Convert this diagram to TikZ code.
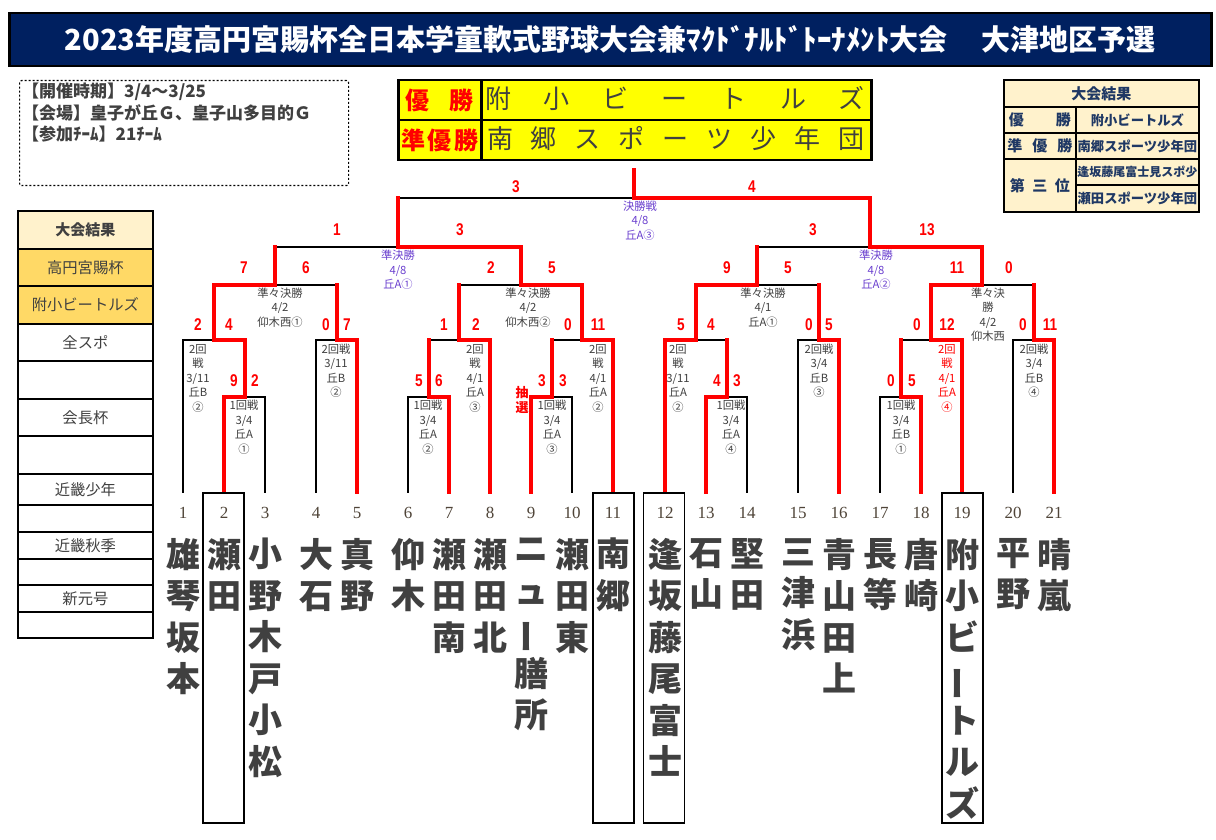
\documentclass[tikz,border=0pt]{standalone}
\usepackage{fontspec}
\usepackage{graphicx}
\setmainfont{Noto Sans CJK JP}
\newfontfamily\jp{Noto Sans CJK JP}
\newfontfamily\scf[FakeStretch=0.8]{Liberation Sans}
\newfontfamily\numf{Liberation Serif}
\usetikzlibrary{calc}
\definecolor{navy}{HTML}{002060}
\definecolor{txtg}{HTML}{404040}
\definecolor{lblpur}{HTML}{6A3FCF}
\definecolor{cream}{HTML}{FFF2CC}
\definecolor{gold}{HTML}{FFD966}
\definecolor{tblnavy}{HTML}{1F3864}
\definecolor{numc}{HTML}{4F4438}
\definecolor{yel}{HTML}{FFFF00}
\definecolor{rd}{HTML}{FF0000}
\newcommand\vbar{\rotatebox[origin=c]{90}{ー}}
\begin{document}
\begin{tikzpicture}[x=1pt,y=-1pt,
  blk/.style={black,line width=1.6pt,line cap=rect},
  redl/.style={rd,line width=4pt,line cap=rect},
  lbl/.style={font=\jp\fontsize{11.3}{14.5}\selectfont,text=txtg,align=center,inner sep=0pt},
  plbl/.style={lbl,text=lblpur},
  rlbl/.style={lbl,text=rd},
  sc/.style={font=\scf\bfseries\fontsize{17}{17}\selectfont,text=rd,inner sep=0pt},
  num/.style={font=\numf\fontsize{17}{17}\selectfont,text=numc,inner sep=0pt},
  team/.style={font=\jp\bfseries\fontsize{34}{41.5}\selectfont,text=txtg,align=center,inner sep=0pt,anchor=north},
  namebox/.style={draw=black,line width=1.6pt,minimum width=41pt,minimum height=330pt,anchor=north,inner sep=0pt},
  cell/.style={draw=black,line width=2pt,anchor=north west,inner sep=0pt},
  scell/.style={draw=black,line width=1.8pt,anchor=north west,inner sep=0pt,minimum width=135pt,font=\jp\fontsize{15.3}{15.3}\selectfont,text=txtg},
  tcell/.style={draw=black,line width=1.8pt,fill=cream,anchor=north west,inner sep=0pt,font=\jp\bfseries,text=tblnavy},
]
\useasboundingbox (0,0) rectangle (1216,840);
\fill[white] (0,0) rectangle (1216,840);

% ---------- title ----------
\node[draw=black,line width=2.5pt,fill=navy,anchor=north west,minimum width=1202pt,minimum height=53pt,inner sep=0pt,
      font=\jp\bfseries\fontsize{29}{29}\selectfont,text=white] (title) at (8,12)
  {2023年度高円宮賜杯全日本学童軟式野球大会兼ﾏｸﾄﾞﾅﾙﾄﾞﾄｰﾅﾒﾝﾄ大会\hspace{34pt}大津地区予選};

% ---------- info box ----------
\node[draw=black,line width=1.2pt,dash pattern=on 2pt off 2pt,rounded corners=2pt,anchor=north west,
      minimum width=329pt,minimum height=105pt,inner sep=0pt] (info) at (19,80) {};
\begin{scope}[every node/.style={anchor=west,inner sep=0pt,font=\jp\bfseries\fontsize{17}{17}\selectfont,text=txtg}]
\node (info1) at (22,92) {【開催時期】3/4～3/25};
\node (info2) at (22,113) {【会場】皇子が丘Ｇ、皇子山多目的Ｇ};
\node (info3) at (22,134) {【参加ﾁｰﾑ】21ﾁｰﾑ};
\end{scope}

% ---------- winner box ----------
\node[cell,line width=2.5pt,fill=yel,minimum width=83pt,minimum height=40pt] (w1a) at (397,79) {};
\node[cell,line width=2.5pt,fill=yel,minimum width=390pt,minimum height=40pt] (w1b) at (480,79) {};
\node[cell,line width=2.5pt,fill=yel,minimum width=83pt,minimum height=40pt] (w2a) at (397,119) {};
\node[cell,line width=2.5pt,fill=yel,minimum width=390pt,minimum height=40pt] (w2b) at (480,119) {};
\node[inner sep=0pt,text=rd,font=\jp\bfseries\fontsize{24}{24}\selectfont] (w1at) at (w1a.center) {\makebox[68pt][s]{優\hfill 勝}};
\node[inner sep=0pt,text=rd,font=\jp\bfseries\fontsize{24}{24}\selectfont] (w2at) at (w2a.center) {\makebox[77pt][s]{準\hfill 優\hfill 勝}};
\node[inner sep=0pt,text=txtg,font=\jp\fontsize{26}{26}\selectfont] (w1bt) at (675,99) {\makebox[380pt][s]{附\hfill 小\hfill ビ\hfill ー\hfill ト\hfill ル\hfill ズ}};
\node[inner sep=0pt,text=txtg,font=\jp\fontsize{26}{26}\selectfont] (w2bt) at (675.5,139) {\makebox[377pt][s]{南\hfill 郷\hfill ス\hfill ポ\hfill ー\hfill ツ\hfill 少\hfill 年\hfill 団}};

% ---------- result table (top right) ----------
\node[tcell,minimum width=195pt,minimum height=27pt,font=\jp\bfseries\fontsize{15}{15}\selectfont] (rh) at (1003,79) {大会結果};
\node[tcell,minimum width=72pt,minimum height=26pt,font=\jp\bfseries\fontsize{15}{15}\selectfont] (r1a) at (1003,106) {\makebox[62pt][s]{優\hfill 勝}};
\node[tcell,minimum width=123pt,minimum height=26pt,font=\jp\bfseries\fontsize{13.3}{13.3}\selectfont] (r1b) at (1075,106) {附小ビートルズ};
\node[tcell,minimum width=72pt,minimum height=26pt,font=\jp\bfseries\fontsize{15}{15}\selectfont] (r2a) at (1003,132) {\makebox[65pt][s]{準\hfill 優\hfill 勝}};
\node[tcell,minimum width=123pt,minimum height=26pt,font=\jp\bfseries\fontsize{13.3}{13.3}\selectfont] (r2b) at (1075,132) {南郷スポーツ少年団};
\node[tcell,minimum width=72pt,minimum height=53pt,font=\jp\bfseries\fontsize{15}{15}\selectfont] (r3a) at (1003,158) {\makebox[60pt][s]{第\hfill 三\hfill 位}};
\node[tcell,minimum width=123pt,minimum height=26pt,font=\jp\bfseries\fontsize{12}{12}\selectfont] (r3b) at (1075,158) {逢坂藤尾富士見スポ少};
\node[tcell,minimum width=123pt,minimum height=27pt,font=\jp\bfseries\fontsize{13.3}{13.3}\selectfont] (r4b) at (1075,184) {瀬田スポーツ少年団};

% ---------- left sidebar ----------
\node[scell,fill=cream,minimum height=38pt,font=\jp\bfseries\fontsize{15}{15}\selectfont] (s1) at (17,210) {大会結果};
\node[scell,fill=gold,minimum height=37pt] (s2) at (17,248) {高円宮賜杯};
\node[scell,fill=gold,minimum height=38pt] (s3) at (17,285) {附小ビートルズ};
\node[scell,minimum height=37pt] (s4) at (17,323) {全スポ};
\node[scell,minimum height=38pt] (s5) at (17,360) {};
\node[scell,minimum height=37pt] (s6) at (17,398) {会長杯};
\node[scell,minimum height=38pt] (s7) at (17,435) {};
\node[scell,minimum height=31pt] (s8) at (17,473) {近畿少年};
\node[scell,minimum height=27pt] (s9) at (17,504) {};
\node[scell,minimum height=27pt] (s10) at (17,531) {近畿秋季};
\node[scell,minimum height=26pt] (s11) at (17,558) {};
\node[scell,minimum height=27pt] (s12) at (17,584) {新元号};
\node[scell,minimum height=26pt] (s13) at (17,611) {};

% ---------- bracket coordinates ----------
\foreach \i/\x in {1/183,2/224,3/265,4/316,5/357,6/408,7/449,8/490,9/531,10/572,11/613,
                   12/665,13/706,14/747,15/798,16/839,17/880,18/921,19/962,20/1013,21/1054}
  \coordinate (t\i) at (\x,492);
\coordinate (A1) at (244.5,397);
\coordinate (A2) at (213.75,340);
\coordinate (A3) at (336.5,340);
\coordinate (QA) at (275.1,285);
\coordinate (B1) at (428.5,397);
\coordinate (B2) at (459.25,340);
\coordinate (B3) at (551.5,397);
\coordinate (B4) at (582.25,340);
\coordinate (QB) at (520.75,285);
\coordinate (SL) at (397.9,247);
\coordinate (C1) at (726.5,397);
\coordinate (C2) at (695.75,340);
\coordinate (C3) at (818.5,340);
\coordinate (QC) at (757.1,285);
\coordinate (D1) at (900.5,397);
\coordinate (D2) at (931.25,340);
\coordinate (D3) at (1033.5,340);
\coordinate (QD) at (982.4,285);
\coordinate (SR) at (869.75,247);
\coordinate (F) at (633.8,198);
\coordinate (FT) at (633.8,170);

% black bars
\foreach \m/\l/\r in {A1/t2/t3,A2/t1/A1,A3/t4/t5,QA/A2/A3,B1/t6/t7,B2/B1/t8,B3/t9/t10,B4/B3/t11,QB/B2/B4,SL/QA/QB,
                      C1/t13/t14,C2/t12/C1,C3/t15/t16,QC/C2/C3,D1/t17/t18,D2/D1/t19,D3/t20/t21,QD/D2/D3,SR/QC/QD,F/SL/SR}
  \draw[blk] (\l|-\m) -- (\r|-\m);
% black team lines (first-match losers)
\foreach \t/\m in {t1/A2,t3/A1,t4/A3,t6/B1,t10/B3,t14/C1,t15/C3,t17/D1,t20/D3}
  \draw[blk] (\t) -- (\t|-\m);
% red team lines (first-match winners)
\foreach \t/\m in {t2/A1,t5/A3,t7/B1,t8/B2,t9/B3,t11/B4,t12/C2,t13/C1,t16/C3,t18/D1,t19/D2,t21/D3}
  \draw[redl] (\t) -- (\t|-\m);
% red winner paths
\foreach \m/\w/\p in {A1/t2/A2,A2/A1/QA,A3/t5/QA,QA/A2/SL,B1/t7/B2,B2/t8/QB,B3/t9/B4,B4/t11/QB,QB/B4/SL,SL/QB/F,
                      C1/t13/C2,C2/t12/QC,C3/t16/QC,QC/C2/SR,D1/t18/D2,D2/t19/QD,D3/t21/QD,QD/D2/SR,SR/QD/F,F/SR/FT}
  \draw[redl] (\w|-\m) -- (\m) -- (\m|-\p);

% ---------- match labels ----------
\node[plbl] (lF) at (640,220.5) {決勝戦\\4/8\\丘A③};
\node[plbl] (lSL) at (398,270) {準決勝\\4/8\\丘A①};
\node[plbl] (lSR) at (876,270) {準決勝\\4/8\\丘A②};
\node[lbl] (lQA) at (280,307.5) {準々決勝\\4/2\\仰木西①};
\node[lbl] (lQB) at (528,307.5) {準々決勝\\4/2\\仰木西②};
\node[lbl] (lQC) at (763,307.5) {準々決勝\\4/1\\丘A①};
\node[lbl] (lQD) at (988,314.5) {準々決\\勝\\4/2\\仰木西};
\node[lbl] (lA2) at (198,378) {2回\\戦\\3/11\\丘B\\②};
\node[lbl] (lA1) at (244,427.5) {1回戦\\3/4\\丘A\\①};
\node[lbl] (lA3) at (336,371) {2回戦\\3/11\\丘B\\②};
\node[lbl] (lB1) at (428,427.5) {1回戦\\3/4\\丘A\\②};
\node[lbl] (lB2) at (475,378) {2回\\戦\\4/1\\丘A\\③};
\node[lbl] (lB3) at (552,427.5) {1回戦\\3/4\\丘A\\③};
\node[lbl] (lB4) at (598,378) {2回\\戦\\4/1\\丘A\\②};
\node[lbl] (lC2) at (678,378) {2回\\戦\\3/11\\丘A\\②};
\node[lbl] (lC1) at (731,427.5) {1回戦\\3/4\\丘A\\④};
\node[lbl] (lC3) at (819,371) {2回戦\\3/4\\丘B\\③};
\node[lbl] (lD1) at (901,427.5) {1回戦\\3/4\\丘B\\①};
\node[rlbl] (lD2) at (947,378) {2回\\戦\\4/1\\丘A\\④};
\node[lbl] (lD3) at (1034,371) {2回戦\\3/4\\丘B\\④};
\node[rlbl,font=\jp\bfseries\fontsize{13}{15}\selectfont] (lot) at (522,399.5) {抽\\選};

% ---------- scores ----------
\foreach \n/\x/\y/\s in {f1/516/187/3,f2/752/187/4,
  sl1/337/230/1,sl2/460/230/3,sr1/813/230/3,sr2/927/230/13,
  qa1/244/268/7,qa2/306/268/6,a21/198/325/2,a22/229/325/4,a11/234/381/9,a12/255/381/2,a31/326/325/0,a32/347/325/7,
  qb1/491/268/2,qb2/552/268/5,b21/444/325/1,b22/476/325/2,b11/419/381/5,b12/439/381/6,b41/568/325/0,b42/598/325/11,b31/542/381/3,b32/563/381/3,
  qc1/727/268/9,qc2/788/268/5,c21/681/325/5,c22/711/325/4,c11/717/381/4,c12/737/381/3,c31/809/325/0,c32/829/325/5,
  qd1/957/268/11,qd2/1009/268/0,d21/917/325/0,d22/947/325/12,d11/891/381/0,d12/912/381/5,d31/1023/325/0,d32/1050/325/11}
  \node[sc] (s\n) at (\x,\y) {\s};

% ---------- team numbers ----------
\foreach \i/\x in {1/183,2/224,3/265,4/316,5/357,6/408,7/449,8/490,9/531,10/572,11/613,
                   12/665,13/706,14/747,15/798,16/839,17/880,18/921,19/962,20/1013,21/1054}
  \node[num] (n\i) at (\x,513) {\i};

% ---------- name boxes ----------
\node[namebox] (bx2) at (223.5,492) {};
\node[namebox] (bx11) at (613.5,492) {};
\node[namebox] (bx12) at (664,492) {};
\node[namebox] (bx19) at (962.5,492) {};

% ---------- team names ----------
\node[team] (nm1) at (183,538) {雄\\琴\\坂\\本};
\node[team] (nm2) at (224,538) {瀬\\田};
\node[team] (nm3) at (265,538) {小\\野\\木\\戸\\小\\松};
\node[team] (nm4) at (316,538) {大\\石};
\node[team] (nm5) at (357,538) {真\\野};
\node[team] (nm6) at (408,538) {仰\\木};
\node[team] (nm7) at (449,538) {瀬\\田\\南};
\node[team] (nm8) at (490,538) {瀬\\田\\北};
\node[team] (nm9) at (531,538) {ニ\\ュ\\\vbar\\膳\\所};
\node[team] (nm10) at (572,538) {瀬\\田\\東};
\node[team] (nm11) at (613,538) {南\\郷};
\node[team] (nm12) at (665,538) {逢\\坂\\藤\\尾\\富\\士};
\node[team] (nm13) at (706,538) {石\\山};
\node[team] (nm14) at (747,538) {堅\\田};
\node[team] (nm15) at (798,538) {三\\津\\浜};
\node[team] (nm16) at (839,538) {青\\山\\田\\上};
\node[team] (nm17) at (880,538) {長\\等};
\node[team] (nm18) at (921,538) {唐\\崎};
\node[team] (nm19) at (962,538) {附\\小\\ビ\\\vbar\\ト\\ル\\ズ};
\node[team] (nm20) at (1013,538) {平\\野};
\node[team] (nm21) at (1054,538) {晴\\嵐};
\end{tikzpicture}
\end{document}
